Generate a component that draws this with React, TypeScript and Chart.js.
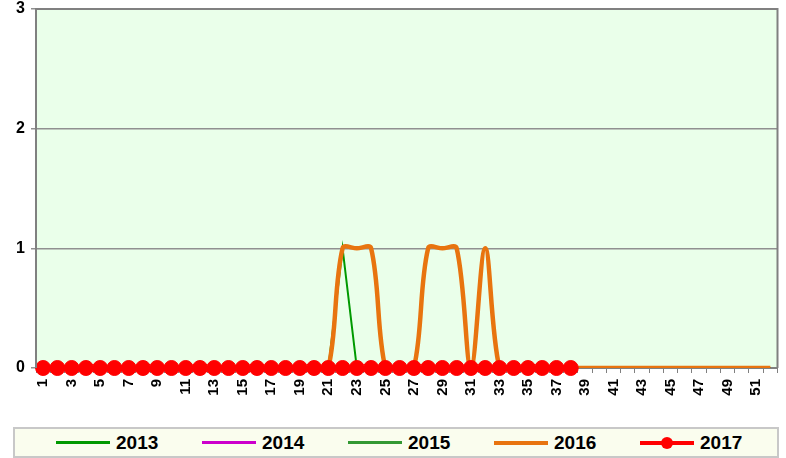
import React, { useEffect, useRef } from "react";
import { Chart, registerables } from "chart.js";

Chart.register(...registerables);

const weeks = [
  "1","2","3","4","5","6","7","8","9","10","11","12","13","14","15","16","17","18","19","20",
  "21","22","23","24","25","26","27","28","29","30","31","32","33","34","35","36","37","38","39","40",
  "41","42","43","44","45","46","47","48","49","50","51","52",
];

const s2013 = [0,0,0,0,0,0,0,0,0,0,0,0,0,0,0,0,0,0,0,0,0,1,0,0,0,0,0,0,0,0,0,0,0,0,0,0,0,0,0,0,0,0,0,0,0,0,0,0,0,0,0,0];
const s2014 = [0,0,0,0,0,0,0,0,0,0,0,0,0,0,0,0,0,0,0,0,0,0,0,0,0,0,0,0,0,0,0,0,0,0,0,0,0,0,0,0,0,0,0,0,0,0,0,0,0,0,0,0];
const s2015 = [0,0,0,0,0,0,0,0,0,0,0,0,0,0,0,0,0,0,0,0,0,0,0,0,0,0,0,0,0,0,0,0,0,0,0,0,0,0,0,0,0,0,0,0,0,0,0,0,0,0,0,0];
const s2016 = [0,0,0,0,0,0,0,0,0,0,0,0,0,0,0,0,0,0,0,0,0,1,1,1,0,0,0,1,1,1,0,1,0,0,0,0,0,0,0,0,0,0,0,0,0,0,0,0,0,0,0,0];
const s2017 = [0,0,0,0,0,0,0,0,0,0,0,0,0,0,0,0,0,0,0,0,0,0,0,0,0,0,0,0,0,0,0,0,0,0,0,0,0,0];

const yTicks = [0, 1, 2, 3];

const legendItems = [
  { label: "2013", color: "#009900", width: 3, dot: false },
  { label: "2014", color: "#CC00CC", width: 3, dot: false },
  { label: "2015", color: "#339933", width: 3, dot: false },
  { label: "2016", color: "#E8740F", width: 4, dot: false },
  { label: "2017", color: "#FF0000", width: 4, dot: true },
];

const plotBg = {
  id: "plotBg",
  beforeDraw(chart: any) {
    const { ctx, chartArea } = chart;
    ctx.save();
    ctx.fillStyle = "#EAFFEA";
    ctx.fillRect(chartArea.left, chartArea.top, chartArea.right - chartArea.left, chartArea.bottom - chartArea.top);
    ctx.restore();
  },
  afterDraw(chart: any) {
    const { ctx, chartArea } = chart;
    ctx.save();
    ctx.strokeStyle = "#808080";
    ctx.lineWidth = 2;
    ctx.beginPath();
    ctx.moveTo(chartArea.left, chartArea.bottom);
    ctx.lineTo(chartArea.left, chartArea.top);
    ctx.lineTo(chartArea.right, chartArea.top);
    ctx.lineTo(chartArea.right, chartArea.bottom);
    ctx.stroke();
    ctx.restore();
  },
};

export default function App() {
  const ref = useRef<HTMLCanvasElement>(null);
  useEffect(() => {
    document.body.style.margin = "0";
    const chart = new Chart(ref.current!, {
      type: "line",
      data: {
        labels: weeks,
        datasets: [
          { label: "2013", data: s2013, borderColor: "#009900", borderWidth: 2, pointRadius: 0, tension: 0, order: 4 },
          { label: "2014", data: s2014, borderColor: "#CC00CC", borderWidth: 2, pointRadius: 0, tension: 0, order: 3 },
          { label: "2015", data: s2015, borderColor: "#339933", borderWidth: 2, pointRadius: 0, tension: 0, order: 2 },
          { label: "2016", data: s2016, borderColor: "#E8740F", borderWidth: 4.5, pointRadius: 0, tension: 0.35, order: 1 },
          { label: "2017", data: s2017, borderColor: "#FF0000", backgroundColor: "#FF0000", borderWidth: 4, pointRadius: 7.5, pointBorderWidth: 1, pointBorderColor: "#FF0000", pointBackgroundColor: "#FF0000", tension: 0, order: 0, clip: false },
        ],
      },
      options: {
        animation: false,
        responsive: false,
        maintainAspectRatio: false,
        layout: { padding: { top: 9, right: 6, left: 0, bottom: 0 } },
        plugins: { legend: { display: false }, tooltip: { enabled: false } },
        scales: {
          x: {
            offset: true,
            grid: { drawOnChartArea: false, drawTicks: true, tickLength: 5, color: "#808080", offset: true },
            border: { display: true, color: "#808080", width: 2 },
            ticks: {
              autoSkip: false,
              maxRotation: 90,
              minRotation: 90,
              padding: 6,
              color: "#000",
              font: { family: "Arial, Liberation Sans", size: 15, weight: "bold" },
              callback: (_v: any, i: number) => (i % 2 === 0 ? weeks[i] : ""),
            },
            afterFit: (s: any) => { s.height = 52; s.paddingLeft = 0; s.paddingRight = 0; },
          },
          y: {
            min: yTicks[0],
            max: yTicks[yTicks.length - 1],
            afterBuildTicks: (s: any) => { s.ticks = yTicks.map((v) => ({ value: v })); },
            grid: { color: "#909090", lineWidth: 1.5, tickLength: 5, drawTicks: true },
            border: { display: true, color: "#808080", width: 2 },
            ticks: {
              padding: 6,
              color: "#000",
              font: { family: "Arial, Liberation Sans", size: 16, weight: "bold" },
            },
            afterFit: (s: any) => { s.width = 36; s.paddingTop = 0; s.paddingBottom = 0; },
          },
        },
      },
      plugins: [plotBg],
    } as any);
    return () => chart.destroy();
  }, []);

  return (
    <div style={{ position: "relative", width: 786, height: 458, background: "#fff", fontFamily: "Arial, 'Liberation Sans', sans-serif" }}>
      <canvas ref={ref} width={786} height={420} style={{ position: "absolute", left: 0, top: 0, width: 786, height: 420 }} />
      <div
        style={{
          position: "absolute",
          left: 13,
          top: 427,
          width: 762,
          height: 27,
          border: "2px solid #C8C8C8",
          background: "#FAFDEE",
        }}
      >
        {legendItems.map((it, i) => (
          <div
            key={it.label}
            style={{ position: "absolute", left: 41 + i * 146, top: 0, height: 27, display: "flex", alignItems: "center" }}
          >
            <div style={{ position: "relative", width: 54, height: 10, marginRight: 6 }}>
              <div style={{ position: "absolute", left: 0, right: 0, top: 5 - it.width / 2, height: it.width, background: it.color }} />
              {it.dot && (
                <div style={{ position: "absolute", left: 21, top: -1, width: 12, height: 12, borderRadius: 6, background: it.color }} />
              )}
            </div>
            <span style={{ fontWeight: "bold", fontSize: 19, color: "#000", lineHeight: "27px" }}>{it.label}</span>
          </div>
        ))}
      </div>
    </div>
  );
}
